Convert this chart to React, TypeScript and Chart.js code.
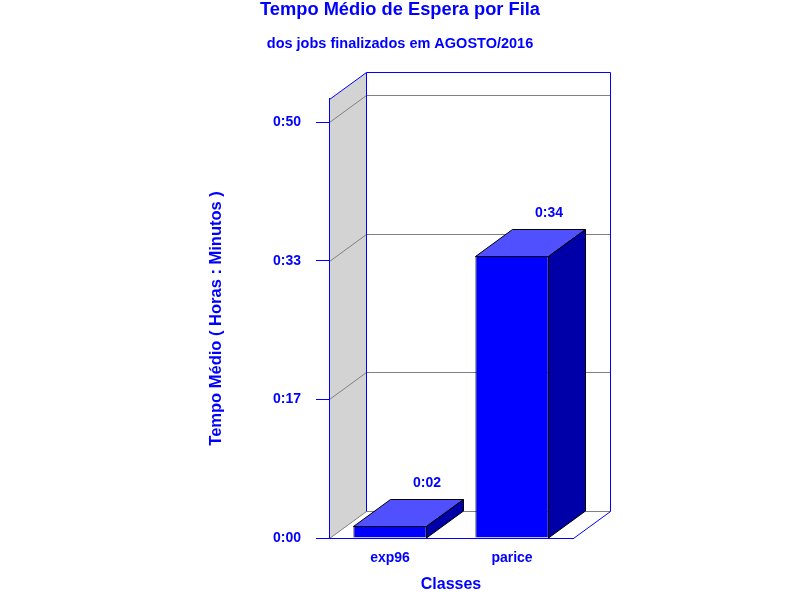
import { useEffect, useRef } from "react"
import { Chart, registerables, type Plugin } from "chart.js"

Chart.register(...registerables)

// data (values in minutes)
const classes = ["exp96", "parice"]
const waitMinutes = [1.5, 33.9]
const tickMinutes = [0, 16.67, 33.33, 50]
const axisMaxMinutes = 52.8

const BLUE = "#0000ff"
const FONT = "'Liberation Sans', Arial, Helvetica, sans-serif"
// depth of the 3D box, in pixels
const DX = 37
const DY = -27

const fmtTime = (minutes: number) => {
  const total = Math.round(minutes)
  const h = Math.floor(total / 60)
  const mm = total % 60
  return `${h}:${String(mm).padStart(2, "0")}`
}

const px = (v: number) => Math.round(v) + 0.5

const box3d: Plugin<"bar"> = {
  id: "box3d",
  beforeDraw(chart) {
    const { ctx, chartArea, scales } = chart
    const { left, right, top, bottom } = chartArea
    const L = px(left)
    const R = px(right)
    const T = px(top)
    const B = px(bottom)
    ctx.save()

    // left side wall
    ctx.fillStyle = "#d3d3d3"
    ctx.beginPath()
    ctx.moveTo(L, B)
    ctx.lineTo(L, T)
    ctx.lineTo(L + DX, T + DY)
    ctx.lineTo(L + DX, B + DY)
    ctx.closePath()
    ctx.fill()

    // grid lines on side and back wall
    ctx.strokeStyle = "#808080"
    ctx.lineWidth = 1
    for (const t of tickMinutes) {
      const y = px(scales.y.getPixelForValue(t))
      ctx.beginPath()
      ctx.moveTo(L, y)
      ctx.lineTo(L + DX, y + DY)
      ctx.lineTo(R + DX, y + DY)
      ctx.stroke()
    }

    // box edges
    ctx.strokeStyle = BLUE
    ctx.beginPath()
    ctx.moveTo(L, B)
    ctx.lineTo(L, T)
    ctx.lineTo(L + DX, T + DY)
    ctx.lineTo(R + DX, T + DY)
    ctx.lineTo(R + DX, B + DY)
    ctx.lineTo(R, B)
    ctx.moveTo(L + DX, T + DY)
    ctx.lineTo(L + DX, B + DY)
    ctx.stroke()
    ctx.restore()
  },
  afterDatasetsDraw(chart) {
    const { ctx } = chart
    const meta = chart.getDatasetMeta(0)
    ctx.save()
    ctx.lineWidth = 1
    ctx.strokeStyle = "#000000"
    meta.data.forEach((bar, i) => {
      const { x, y, base, width } = bar.getProps(["x", "y", "base", "width"], true) as any
      const l = Math.round(x - width / 2) + 0.5
      const r = Math.round(x + width / 2) - 0.5
      const t = px(y)
      const b = Math.round(base)

      // top face
      ctx.fillStyle = "#5050ff"
      ctx.beginPath()
      ctx.moveTo(l, t)
      ctx.lineTo(r, t)
      ctx.lineTo(r + DX, t + DY)
      ctx.lineTo(l + DX, t + DY)
      ctx.closePath()
      ctx.fill()
      ctx.stroke()

      // side face
      ctx.fillStyle = "#0000a8"
      ctx.beginPath()
      ctx.moveTo(r, t)
      ctx.lineTo(r + DX, t + DY)
      ctx.lineTo(r + DX, b + DY)
      ctx.lineTo(r, b)
      ctx.closePath()
      ctx.fill()
      ctx.stroke()

      // value label
      ctx.fillStyle = BLUE
      ctx.font = `bold 14px ${FONT}`
      ctx.textAlign = "center"
      ctx.textBaseline = "middle"
      ctx.fillText(fmtTime(waitMinutes[i]), x + DX, t + DY - 16)
    })
    ctx.restore()
  },
}

export default function App() {
  const canvasRef = useRef<HTMLCanvasElement>(null)
  const chartRef = useRef<Chart | null>(null)

  useEffect(() => {
    if (!canvasRef.current) return
    if (chartRef.current) chartRef.current.destroy()

    chartRef.current = new Chart(canvasRef.current, {
      type: "bar",
      data: {
        labels: classes,
        datasets: [
          {
            data: waitMinutes,
            backgroundColor: BLUE,
            borderColor: "#000000",
            borderWidth: 1,
            barPercentage: 0.6,
            categoryPercentage: 1,
          },
        ],
      },
      options: {
        animation: false,
        responsive: false,
        layout: { padding: 0 },
        plugins: {
          legend: { display: false },
          tooltip: { enabled: false },
          title: {
            display: true,
            text: "Tempo Médio de Espera por Fila",
            color: BLUE,
            font: { family: FONT, size: 18.3, weight: "bold", lineHeight: 1 },
            padding: { top: 1, bottom: 7 },
          },
          subtitle: {
            display: true,
            text: "dos jobs finalizados em AGOSTO/2016",
            color: BLUE,
            font: { family: FONT, size: 14.5, weight: "bold", lineHeight: 1 },
            padding: { top: 10, bottom: 48 },
          },
        },
        scales: {
          x: {
            grid: { display: false, drawTicks: false },
            border: { display: true, color: BLUE },
            ticks: { color: BLUE, font: { family: FONT, size: 14, weight: "bold" }, padding: 12 },
            title: {
              display: true,
              text: "Classes",
              color: BLUE,
              font: { family: FONT, size: 16, weight: "bold" },
              padding: { top: 0, bottom: 6 },
            },
            afterFit: (s) => {
              s.height = 62
            },
          },
          y: {
            min: 0,
            max: axisMaxMinutes,
            afterBuildTicks: (s) => {
              s.ticks = tickMinutes.map((v) => ({ value: v }))
            },
            ticks: {
              color: BLUE,
              font: { family: FONT, size: 14, weight: "bold" },
              padding: 15,
              callback: (v) => fmtTime(Number(v)),
            },
            grid: {
              drawOnChartArea: false,
              drawTicks: true,
              tickLength: 13,
              color: BLUE,
              tickColor: BLUE,
            },
            border: { display: true, color: BLUE },
            title: {
              display: true,
              text: "Tempo Médio ( Horas : Minutos )",
              color: BLUE,
              font: { family: FONT, size: 16.5, weight: "bold" },
              padding: { top: 207, bottom: 0 },
            },
            afterFit: (s) => {
              s.width = 329
            },
          },
          // invisible right axis keeps the plot narrow while titles stay centred on the page
          y2: {
            type: "linear",
            position: "right",
            display: true,
            grid: { display: false },
            ticks: { display: false },
            border: { display: false },
            afterFit: (s) => {
              s.width = 227
            },
          },
        },
      },
      plugins: [box3d],
    })

    return () => {
      if (chartRef.current) {
        chartRef.current.destroy()
        chartRef.current = null
      }
    }
  }, [])

  return (
    <div style={{ position: "absolute", left: 0, top: 0, width: 800, height: 600, background: "#fff" }}>
      <canvas ref={canvasRef} width={800} height={600} style={{ display: "block" }} />
    </div>
  )
}
